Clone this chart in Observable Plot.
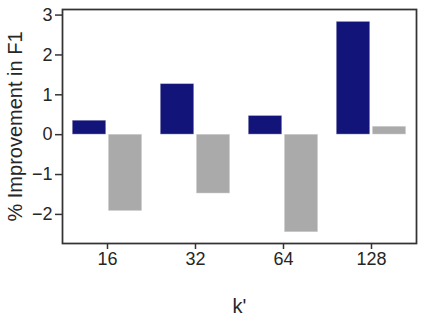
<!DOCTYPE html>
<html>
<head>
<meta charset="utf-8">
<script src="https://cdn.jsdelivr.net/npm/d3@7"></script>
<script src="https://cdn.jsdelivr.net/npm/@observablehq/plot@0.6"></script>
<style>
  html, body { margin: 0; padding: 0; background: #fff; }
  #chart svg { display: block; }
</style>
</head>
<body>
<div id="chart"></div>
<script>
const categories = ["16", "32", "64", "128"];
const seriesA = [0.35, 1.27, 0.47, 2.83];   // navy
const seriesB = [-1.92, -1.48, -2.45, 0.20]; // gray
const yTicks = [-2, -1, 0, 1, 2, 3];

const dataA = categories.map((k, i) => ({k, v: seriesA[i]}));
const dataB = categories.map((k, i) => ({k, v: seriesB[i]}));

const chart = Plot.plot({
  width: 424,
  height: 323,
  marginLeft: 62,
  marginRight: 8,
  marginTop: 9,
  marginBottom: 80,
  style: {fontFamily: "'Liberation Sans', Arial, sans-serif", fontSize: "18px", color: "#262626", background: "#fff"},
  x: {domain: categories, padding: 0},
  y: {domain: [-2.73, 3.14]},
  marks: [
    Plot.barY(dataA, {x: "k", y: "v", fill: "#12147a", stroke: "#fff", strokeOpacity: 0.35, strokeWidth: 1, insetLeft: 9.25, insetRight: 45.25}),
    Plot.barY(dataB, {x: "k", y: "v", fill: "#aaaaaa", stroke: "#fff", strokeOpacity: 0.35, strokeWidth: 1, insetLeft: 45.25, insetRight: 9.25}),
    Plot.frame({stroke: "#333", strokeWidth: 1.75}),
    Plot.axisY({ticks: yTicks, tickSize: 7, tickPadding: 3, tickFormat: d => d < 0 ? "\u2212" + Math.abs(d) : String(d), fontSize: 18, stroke: "#333", strokeWidth: 1.5,
      label: "% Improvement in F1", labelAnchor: "center", labelArrow: "none", labelOffset: 55}),
    Plot.axisX({tickSize: 6, tickPadding: 3, fontSize: 18, stroke: "#333", strokeWidth: 1.5,
      label: "k'", labelAnchor: "center", labelArrow: "none", labelOffset: 69})
  ]
});
document.getElementById("chart").appendChild(chart);
chart.querySelectorAll("g[aria-label='y-axis label'], g[aria-label='x-axis label']").forEach(g => {
  g.setAttribute("font-size", "20");
  g.querySelectorAll("text").forEach(t => t.setAttribute("font-size", "20"));
});
</script>
</body>
</html>
